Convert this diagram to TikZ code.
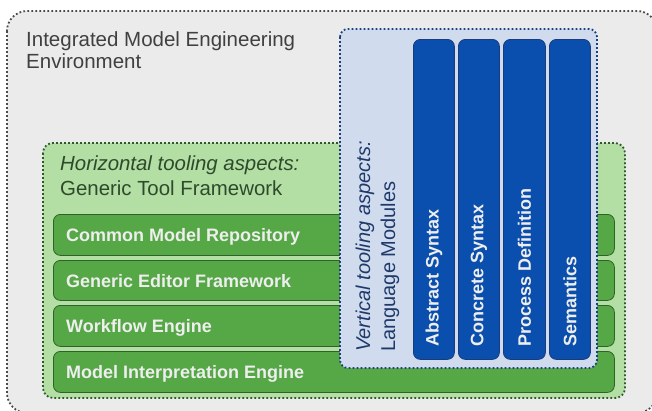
\documentclass[tikz,border=0pt]{standalone}
\usepackage{fontspec}
\setmainfont{Liberation Sans}
\definecolor{outerfill}{HTML}{EBEBEB}
\definecolor{outerline}{HTML}{4A4A4A}
\definecolor{outertext}{HTML}{404040}
\definecolor{gboxfill}{HTML}{B3DEA4}
\definecolor{gboxline}{HTML}{2E5A2A}
\definecolor{gtext}{HTML}{2E4A2C}
\definecolor{barfill}{HTML}{55A845}
\definecolor{barline}{HTML}{2F6228}
\definecolor{bartext}{HTML}{EEEEEE}
\definecolor{bboxfill}{HTML}{D0DCEE}
\definecolor{bboxline}{HTML}{1B3F80}
\definecolor{btext}{HTML}{1F3A6A}
\definecolor{colfill}{HTML}{0A4FAD}
\definecolor{colline}{HTML}{1A3C7A}
\tikzset{
  dotline/.style={line width=1.8pt, dash pattern=on 1.8pt off 2.2pt},
  outerbox/.style={dotline, draw=outerline, fill=outerfill, rounded corners=20pt},
  gbox/.style={dotline, draw=gboxline, fill=gboxfill, rounded corners=10pt},
  bbox/.style={dotline, draw=bboxline, fill=bboxfill, rounded corners=8pt},
  bar/.style={draw=barline, line width=0.8pt, fill=barfill, rounded corners=7pt},
  colbox/.style={draw=colline, line width=0.8pt, fill=colfill, rounded corners=7pt},
  bartxt/.style={anchor=base west, inner sep=0pt, text=bartext, font=\fontsize{18}{21}\selectfont\bfseries},
  coltxt/.style={anchor=west, rotate=90, inner sep=0pt, text=bartext, font=\fontsize{18}{21}\selectfont\bfseries},
}
\begin{document}
\begin{tikzpicture}[x=1pt,y=-1pt]
\useasboundingbox (0,0) rectangle (652,410);
\begin{scope}
\clip (0,0) rectangle (652,410);
% outer environment
\draw[outerbox] (7,11) rectangle (657,413);
\node[anchor=north west, inner sep=0pt, align=left, text=outertext,
      font=\fontsize{20.5}{22.3}\selectfont] (envtitle) at (26,31.5)
      {Integrated Model Engineering\\Environment};
% horizontal aspects
\draw[gbox] (43,143) rectangle (625,398);
\node[anchor=north west, inner sep=0pt, align=left, text=gtext,
      font=\fontsize{20.4}{25}\selectfont] (htitle) at (60,155.3)
      {\itshape Horizontal tooling aspects:\\Generic Tool Framework};
\node[bar, minimum width=561pt, minimum height=41pt, anchor=north west] (b1) at (53,214) {};
\node[bar, minimum width=561pt, minimum height=40pt, anchor=north west] (b2) at (53,260) {};
\node[bar, minimum width=561pt, minimum height=41pt, anchor=north west] (b3) at (53,305) {};
\node[bar, minimum width=561pt, minimum height=41pt, anchor=north west] (b4) at (53,351) {};
\node[bartxt] (t1) at ([xshift=13pt,yshift=-7pt]b1.west) {Common Model Repository};
\node[bartxt] (t2) at ([xshift=13pt,yshift=-7pt]b2.west) {Generic Editor Framework};
\node[bartxt] (t3) at ([xshift=13pt,yshift=-6.5pt]b3.west) {Workflow Engine};
\node[bartxt] (t4) at ([xshift=13pt,yshift=-6.5pt]b4.west) {Model Interpretation Engine};
% vertical aspects
\draw[bbox] (340,29) rectangle (597,368);
\node[anchor=north west, rotate=90, inner sep=0pt, align=left, text=btext,
      font=\fontsize{20}{25}\selectfont] (vtitle) at (355.5,352)
      {\itshape Vertical tooling aspects:\\Language Modules};
\node[colbox, minimum width=41pt, minimum height=320pt, anchor=north west] (c1) at (413,39) {};
\node[colbox, minimum width=41pt, minimum height=320pt, anchor=north west] (c2) at (458,39) {};
\node[colbox, minimum width=42pt, minimum height=320pt, anchor=north west] (c3) at (503,39) {};
\node[colbox, minimum width=41pt, minimum height=320pt, anchor=north west] (c4) at (549,39) {};
\node[coltxt] (ct1) at (c1.center |- 0,347) {Abstract Syntax};
\node[coltxt] (ct2) at (c2.center |- 0,347) {Concrete Syntax};
\node[coltxt] (ct3) at (c3.center |- 0,347) {Process Definition};
\node[coltxt] (ct4) at (c4.center |- 0,347) {Semantics};
\end{scope}
\end{tikzpicture}
\end{document}
